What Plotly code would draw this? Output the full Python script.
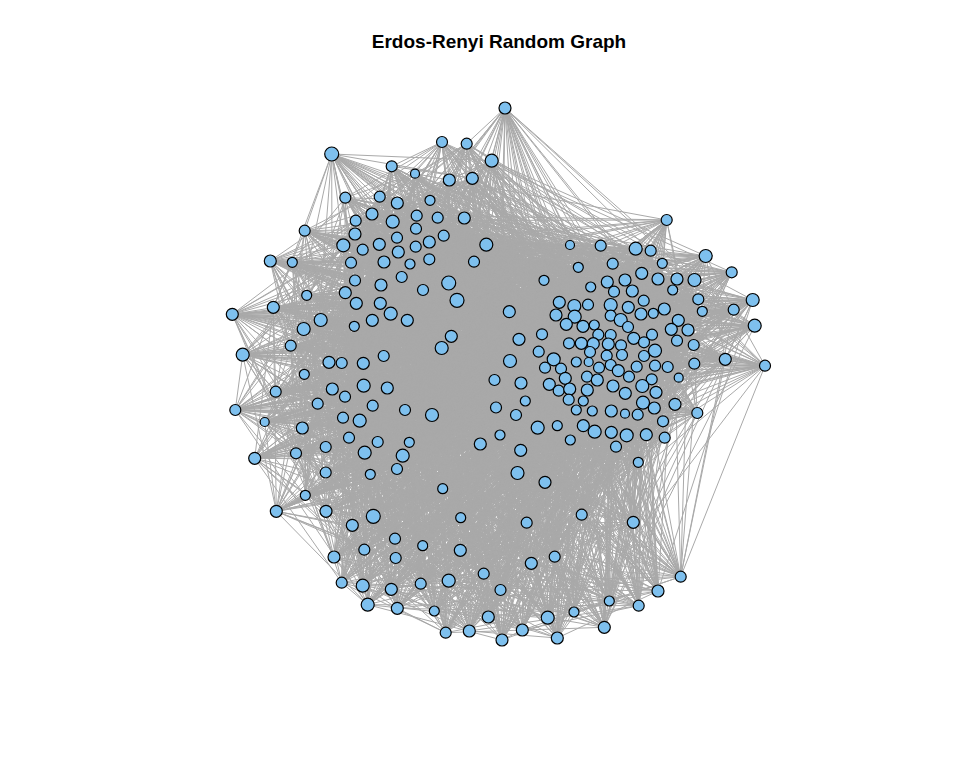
import plotly.graph_objects as go

# Posiciones de los vertices (unidades de pantalla)
node_x = [
    505, 331.7, 442, 466.7, 491.7, 391.7, 415, 449.3, 472.3, 345.3,
    379.7, 397.3, 430, 372, 392.7, 416.7, 437.7, 464.3, 304.7, 355.7,
    355, 416, 397, 443.7, 343.3, 379.3, 429.3, 486.3, 362.7, 398.3,
    415.7, 270.3, 292.3, 351, 384, 410, 429.3, 474, 401.7, 355,
    381, 448.7, 666.7, 570, 600.7, 635.7, 650.7, 705.7, 578.3, 612.7,
    662.3, 641.7, 731.7, 544, 607.3, 625, 658, 677, 694.5, 590.7,
    306.7, 273.3, 232.3, 345.3, 356.3, 380.3, 390.7, 423, 457, 320.7,
    303.7, 372.3, 407.3, 354.3, 451.3, 441.7, 290.7, 242.7, 329, 341.7,
    363.3, 383.7, 304.3, 494.5, 275.7, 332.3, 363.7, 387.3, 345, 317.7,
    372.7, 405, 432, 496, 235.3, 264.7, 343, 359.7, 302.3, 349,
    377.7, 409.3, 500, 480.3, 254.7, 296, 325.7, 364.7, 402.7, 397,
    325.7, 614, 632.3, 672.7, 698.3, 752.7, 509.3, 559.3, 574.3, 588,
    610.7, 628.3, 643.7, 556, 574.7, 610.7, 620.7, 641, 653.3, 664.3,
    702.3, 733.7, 566.3, 583, 594.3, 628, 678.3, 671.3, 688, 754.7,
    542, 519, 598.3, 610.7, 633.7, 652, 677, 569, 581.3, 593.3,
    608.3, 621, 644, 693.7, 538.7, 590, 606.7, 622, 644, 655,
    553.7, 510, 576.3, 588.7, 610.7, 725.3, 545, 561, 599, 618.3,
    636.7, 655, 667.7, 694.3, 765, 521, 549.3, 565.3, 587, 597.3,
    629, 651.7, 678.7, 558.7, 569.7, 587.3, 613, 642.3, 656, 625.3,
    525.3, 568.7, 583.3, 643, 654.3, 675, 516, 576.3, 592.3, 611.3,
    625, 637.7, 697.3, 537.7, 557.3, 583.3, 594.7, 611.3, 626.7, 646.3,
    663, 570.3, 664.7, 616, 520.7, 638.3, 370.3, 442.7, 305.3, 276.3,
    326, 373.3, 352.3, 460.7, 395, 422.7, 364.3, 460.3, 395.7, 334,
    483.7, 448.7, 420.7, 341.7, 362.7, 391.3, 367.7, 397.3, 434.3, 488.3,
    445.7, 469.3, 517.5, 545, 581.7, 633.3, 526.7, 554.7, 531.3, 680.7,
    500.5, 658, 609.3, 638.7, 574, 547.7, 522.3, 604.3, 557.3, 502,
]
node_y = [
    108, 154, 142, 143.7, 160.7, 166.3, 173.7, 180, 178.3, 197.7,
    196.7, 203, 200.3, 214, 221.7, 215.7, 217.7, 218, 230.7, 220.7,
    234, 228.7, 237.7, 235.7, 245.3, 244.3, 242, 244.7, 249.7, 252,
    246.7, 261, 262.3, 262.7, 262, 264, 259.3, 261.7, 277, 280.5,
    285, 283, 220, 245, 245.7, 248.7, 250.7, 256, 267.3, 263.7,
    263.3, 273.3, 272.3, 280.3, 282, 280, 279, 279, 280, 287,
    295.3, 307.3, 314.3, 292.7, 303.3, 303.3, 313.7, 290, 300.3, 320,
    329, 320.3, 320.3, 326.3, 336.3, 348, 345.7, 354.7, 362.3, 363,
    363.3, 356, 374.3, 380, 391.7, 389, 385.7, 388, 396.7, 403.7,
    405.7, 410, 415, 407.5, 410, 422, 417.7, 420.7, 428, 437.7,
    442, 442.3, 435, 444, 458.3, 453.3, 447, 452.7, 455.7, 469,
    472.5, 291.7, 291, 290, 299.3, 300, 311.7, 302.3, 306, 304.7,
    305, 307.3, 300.7, 315, 316.7, 315.7, 320, 314, 313.3, 309,
    311.3, 309.7, 324.3, 326.3, 325, 327, 320.3, 329.3, 330, 325.7,
    334.3, 339.3, 334.7, 335, 338.3, 334.7, 340.7, 343.3, 343.3, 343.7,
    344, 345.3, 342.3, 345, 351.7, 352, 355.7, 355, 356, 350.7,
    359.3, 361, 362, 362, 365, 359.3, 367.7, 368.7, 367.7, 370.7,
    366.7, 365.7, 367, 363.7, 365.7, 383, 384.3, 378.3, 376.7, 380,
    376.7, 379.3, 377.7, 390.7, 389, 390, 386, 386, 392.3, 393.3,
    401, 399.7, 401, 402.7, 408, 404.3, 415, 410, 411, 411,
    413.7, 414.7, 413, 427.7, 425.7, 425.7, 431.7, 432.3, 435.3, 434.7,
    421.3, 440, 437.7, 446.7, 450.3, 462.3, 474.3, 488.7, 495.3, 511.3,
    511.3, 516.3, 525.3, 517.7, 538.7, 545.7, 549.7, 550.3, 558, 557,
    573.7, 580.7, 583.7, 582.7, 585.7, 589.3, 604.7, 608.3, 611, 617,
    632.7, 631, 473, 482.3, 514.7, 522.3, 522.7, 556.7, 563.3, 576.7,
    590, 591, 601, 605.7, 612, 617.7, 630, 627.3, 638, 640,
]
node_r = [
    6, 7, 5.5, 5.5, 6.5, 5.5, 4.5, 6, 6, 5.5,
    5.5, 6, 5, 6, 6.5, 5.5, 5.5, 6, 5.5, 5.5,
    6, 5.5, 5.5, 5.5, 6.5, 6, 6, 6.5, 5.5, 6,
    5.5, 6, 5, 5.5, 6, 5, 5.5, 5.5, 5.5, 5.5,
    6, 7, 5.5, 4.5, 5.5, 6.5, 5.5, 6.5, 5, 5.5,
    5, 6, 5.5, 5, 6, 6, 6, 6, 6.5, 5,
    5, 6, 6, 6, 6, 6, 6.5, 5.5, 7, 6.5,
    6.5, 6, 6, 5, 6, 6.5, 5.5, 6.5, 6, 5.5,
    6, 5.5, 5, 5.5, 5.5, 6, 6.5, 6, 5.5, 5.5,
    5.5, 5.5, 6.5, 5.5, 5.5, 4.5, 5.5, 6.5, 6, 5.5,
    5.5, 5, 5, 6, 6, 5.5, 5.5, 6.5, 6.5, 5.5,
    5.5, 5.5, 6, 5, 5.5, 6.5, 6, 6, 6.5, 5.5,
    6.5, 6, 5.5, 6, 6.5, 5.5, 6.5, 6, 5, 6,
    5, 5.5, 6, 6, 5, 5.5, 6, 6, 6, 6.5,
    5.5, 6, 5.5, 5.5, 6, 5.5, 5.5, 5.5, 6, 6,
    6, 5.5, 5.5, 5.5, 5.5, 5.5, 5.5, 5.5, 5.5, 6.5,
    6.5, 6.5, 5, 4.5, 5.5, 6, 5.5, 5.5, 5.5, 6,
    5.5, 5.5, 5.5, 5.5, 5.5, 6, 6, 6, 5.5, 6,
    5.5, 5.5, 4.5, 5.5, 6, 6, 6, 6.5, 6, 6,
    5, 5.5, 5, 6.5, 6, 6, 5.5, 5, 5, 6,
    4.5, 5.5, 5.5, 6.5, 5, 6, 6.5, 6, 6.5, 6,
    5.5, 5, 5.5, 5.5, 6, 5, 5, 5, 5, 6,
    6, 7, 6, 5, 5.5, 5, 5.5, 6, 5.5, 6,
    5.5, 6.5, 5.5, 5.5, 6.5, 6, 6.5, 6, 5, 6,
    5.5, 6, 6.5, 6, 5.5, 6, 5.5, 5.5, 6, 5.5,
    5.5, 6, 5, 5.5, 5, 6.5, 6, 6, 6, 6,
]

# Estructura de aristas: cada vertice i se une con i + d (mod n)
edge_offsets = [3, 7, 12, 17, 23, 29, 36, 43, 50, 58, 66, 75, 84, 93,
                102, 111, 118, 124, 129]

n = len(node_x)
ex, ey = [], []
for i in range(n):
    for d in edge_offsets:
        j = (i + d) % n
        ex += [node_x[i], node_x[j], None]
        ey += [node_y[i], node_y[j], None]

fig = go.Figure()
fig.add_trace(go.Scatter(
    x=ex, y=ey, mode="lines",
    line=dict(color="#A9A9A9", width=1),
    hoverinfo="skip", showlegend=False
))
fig.add_trace(go.Scatter(
    x=node_x, y=node_y, mode="markers",
    marker=dict(size=[2 * r for r in node_r], color="#7EC0EE", opacity=1,
                line=dict(color="black", width=1.2)),
    showlegend=False
))

# la pagina tiene 8px de margen, se compensa en los rangos
fig.update_layout(
    width=960, height=768,
    margin=dict(l=0, r=0, t=0, b=0),
    paper_bgcolor="white", plot_bgcolor="white",
    title=dict(text="<b>Erdos-Renyi Random Graph</b>",
               font=dict(family="Liberation Sans, Arial", size=19, color="black"),
               x=491 / 960, xanchor="center", y=1 - 33 / 768, yanchor="middle"),
    xaxis=dict(range=[8, 968], visible=False),
    yaxis=dict(range=[776, 8], visible=False),
)

fig.write_html("out.html")
